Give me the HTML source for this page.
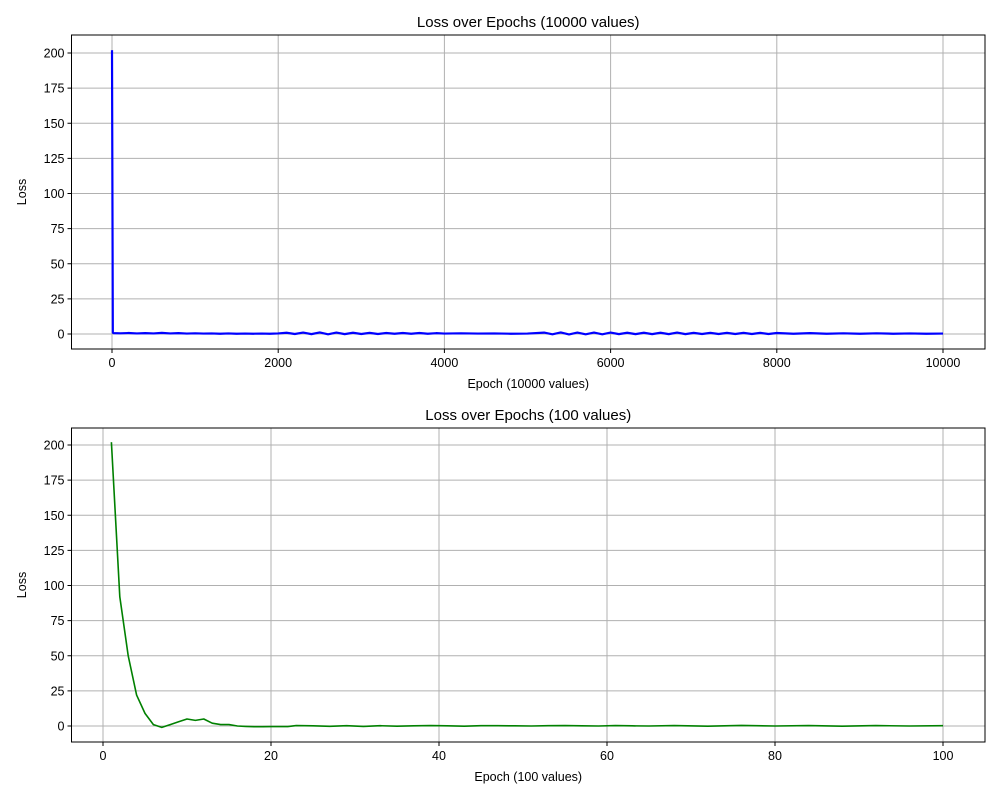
<!DOCTYPE html>
<html><head><meta charset="utf-8"><style>
body{margin:0;background:#fff;}
svg{display:block;font-family:"Liberation Sans","DejaVu Sans",sans-serif;}
</style></head><body>
<svg id="c" width="1000" height="800"></svg>
<script>
// Top chart data (epoch, loss)
const topEpochs = [0,10,20,100,200,300,400,500,600,700,800,900,1000,1100,1200,1300,1400,1500,1600,1700,1800,1900,2000,2100,2200,2300,2400,2500,2600,2700,2800,2900,3000,3100,3200,3300,3400,3500,3600,3700,3800,3900,4000,4200,4400,4600,4800,5000,5200,5300,5400,5500,5600,5700,5800,5900,6000,6100,6200,6300,6400,6500,6600,6700,6800,6900,7000,7100,7200,7300,7400,7500,7600,7700,7800,7900,8000,8200,8400,8600,8800,9000,9200,9400,9600,9800,10000];
const topLoss = [202,1,0.6,0.5,0.7,0.4,0.6,0.4,0.8,0.4,0.6,0.3,0.5,0.3,0.4,0.2,0.4,0.2,0.3,0.2,0.3,0.2,0.4,0.9,0,1.0,-0.1,1.1,-0.2,1.0,-0.1,0.9,0,0.8,0,0.7,0.2,0.7,0.2,0.7,0.2,0.6,0.3,0.5,0.3,0.4,0.2,0.3,1.0,-0.2,1.1,-0.3,1.0,-0.2,1.0,-0.2,1.0,-0.1,0.9,-0.1,0.9,-0.1,0.9,-0.1,1.0,-0.1,0.8,0,0.8,0,0.8,0,0.8,0,0.8,0,0.7,0.2,0.6,0.2,0.5,0.2,0.5,0.2,0.4,0.2,0.3];
// Bottom chart data
const botEpochs = [1,2,3,4,5,6,7,8,9,10,11,12,13,14,15,16,17,18,19,20,22,23,25,27,29,31,33,35,37,39,41,43,45,47,49,51,53,55,57,59,61,63,65,68,72,76,80,84,88,92,96,100];
const botLoss = [202,92,50,22,9,1,-1,1,3,5,4,5,2,1,1,0,-0.3,-0.5,-0.5,-0.4,-0.4,0.3,0.1,-0.2,0.2,-0.3,0.2,-0.1,0.1,0.3,0.1,-0.1,0.2,0.2,0.1,0,0.2,0.3,0.1,0,0.3,0.1,0,0.3,-0.1,0.4,0,0.3,-0.1,0.3,0,0.2];
const yTicks = [0,25,50,75,100,125,150,175,200];
const topXTicks = [0,2000,4000,6000,8000,10000];
const botXTicks = [20,40,60,80,100];

const svg = document.getElementById('c');
const NS = 'http://www.w3.org/2000/svg';
function mk(tag, attrs, parent){const e=document.createElementNS(NS,tag);for(const k in attrs)e.setAttribute(k,attrs[k]);(parent||svg).appendChild(e);return e;}

function chart(cfg){
  const g = mk('g',{});
  
  
  const L=71.5,R=985,T=cfg.top,B=cfg.top+314;
  const xs = v => cfg.x0px + (v - cfg.x0)*(cfg.x1px-cfg.x0px)/(cfg.x1-cfg.x0);
  const ys = v => cfg.y0px - v*(cfg.y0px-cfg.y200px)/200;
  cfg.xt.forEach(t=>{const l=mk('line',{x1:xs(t),x2:xs(t),y1:T,y2:B,stroke:'#b0b0b0','stroke-width':1},g);
    
    });
  yTicks.forEach(t=>{const l=mk('line',{x1:L,x2:R,y1:ys(t),y2:ys(t),stroke:'#b0b0b0','stroke-width':1},g);
    
    });
  const pts = cfg.ex.map((e,i)=>xs(e).toFixed(2)+','+ys(cfg.ey[i]).toFixed(2)).join(' ');
  const pl = mk('polyline',{points:pts,fill:'none',stroke:cfg.color,'stroke-width':cfg.lw,'stroke-linejoin':'round'},g);
  
  
  const fr = mk('rect',{x:L,y:T,width:R-L,height:B-T,fill:'none',stroke:'#000','stroke-width':1},g);
  
  
  cfg.xt.forEach(t=>{mk('line',{x1:xs(t),x2:xs(t),y1:B,y2:B+4,stroke:'#000'},g);
    const tx=mk('text',{x:xs(t),y:B+18,'text-anchor':'middle','font-size':12.5,fill:'#000'},g);tx.textContent=t;
    
    });
  yTicks.forEach(t=>{mk('line',{x1:L-4,x2:L,y1:ys(t),y2:ys(t),stroke:'#000'},g);
    const tx=mk('text',{x:L-7,y:ys(t)+4.5,'text-anchor':'end','font-size':12.5,fill:'#000'},g);tx.textContent=t;
    
    });
  const ti=mk('text',{x:(L+R)/2,y:T-8,'text-anchor':'middle','font-size':15,fill:'#000'},g);ti.textContent=cfg.title;
  
  
  const xl=mk('text',{x:(L+R)/2,y:B+39,'text-anchor':'middle','font-size':12.5,fill:'#000'},g);xl.textContent=cfg.xlabel;
  
  
  const yl=mk('text',{x:26,y:(T+B)/2,'text-anchor':'middle','font-size':12.5,fill:'#000',transform:`rotate(-90 26 ${(T+B)/2})`},g);yl.textContent='Loss';
  
  
}
chart({name:'top-chart',lineName:'loss-line-10000',lw:2.2,top:35,x0:0,x1:10000,x0px:112,x1px:943,y0px:334,y200px:53,xt:topXTicks,ex:topEpochs,ey:topLoss,color:'#0000ff',title:'Loss over Epochs (10000 values)',xlabel:'Epoch (10000 values)'});
chart({name:'bottom-chart',lineName:'loss-line-100',lw:1.6,top:428,x0:20,x1:100,x0px:271,x1px:943,y0px:726,y200px:445,xt:botXTicks.concat([0]),ex:botEpochs,ey:botLoss,color:'#008000',title:'Loss over Epochs (100 values)',xlabel:'Epoch (100 values)'});
</script>
</body></html>
